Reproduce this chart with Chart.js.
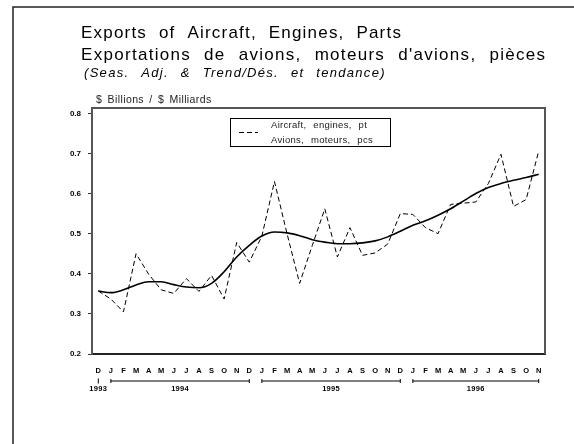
<!DOCTYPE html>
<html>
<head>
<meta charset="utf-8">
<script src="https://cdn.jsdelivr.net/npm/chart.js@4"></script>
<style>
  html, body { margin: 0; padding: 0; background: #fff; }
</style>
</head>
<body>
<canvas id="exportsChart" width="574" height="444"></canvas>
<script>
// Months from Dec 1993 to Nov 1996
const months = ['D',
  'J','F','M','A','M','J','J','A','S','O','N','D',
  'J','F','M','A','M','J','J','A','S','O','N','D',
  'J','F','M','A','M','J','J','A','S','O','N'];
const firstYear = 1993;
const yTicks = [0.2, 0.3, 0.4, 0.5, 0.6, 0.7, 0.8];

// Seasonally adjusted series (dashed) and trend (solid), $ billions
const seasAdj = [0.357,
  0.337, 0.305, 0.450, 0.399, 0.360, 0.351, 0.388, 0.356, 0.396, 0.337, 0.478, 0.429,
  0.494, 0.630, 0.500, 0.376, 0.470, 0.562, 0.442, 0.515, 0.446, 0.452, 0.474, 0.550,
  0.548, 0.515, 0.500, 0.573, 0.576, 0.579, 0.625, 0.698, 0.568, 0.585, 0.706];
const trend = [0.357,
  0.353, 0.360, 0.372, 0.380, 0.380, 0.373, 0.367, 0.365, 0.376, 0.405, 0.442, 0.471,
  0.494, 0.504, 0.502, 0.495, 0.485, 0.479, 0.475, 0.475, 0.477, 0.482, 0.492, 0.506,
  0.521, 0.532, 0.546, 0.562, 0.581, 0.600, 0.615, 0.625, 0.633, 0.640, 0.648];

const titleLines = ['Exports of Aircraft, Engines, Parts',
                    "Exportations de avions, moteurs d'avions, pièces"];
const subTitle = '(Seas. Adj. & Trend/Dés. et tendance)';
const unitLabel = '$ Billions / $ Milliards';
const legendLines = ['Aircraft, engines, pt', 'Avions, moteurs, pcs'];

const FONT = '"Liberation Sans", Arial, Helvetica, sans-serif';

// group month indexes into years (a new year starts at each 'J')
function yearSpans() {
  const spans = [];
  let year = firstYear;
  let start = 0;
  for (let i = 1; i <= months.length; i++) {
    if (i === months.length || months[i] === 'J' && months[i - 1] === 'D') {
      spans.push({ year: String(year), from: start, to: i - 1 });
      year++;
      start = i;
    }
  }
  return spans;
}

function spaced(ctx, font, letter, word) {
  ctx.font = font;
  ctx.letterSpacing = letter + 'px';
  ctx.wordSpacing = word + 'px';
}

const decorPlugin = {
  id: 'decor',
  afterDraw(chart) {
    const ctx = chart.ctx;
    const area = chart.chartArea;
    const x = chart.scales.x;
    ctx.save();

    // outer frame (top and left)
    ctx.strokeStyle = '#222';
    ctx.lineWidth = 1.5;
    ctx.beginPath();
    ctx.moveTo(13, 444);
    ctx.lineTo(13, 7);
    ctx.lineTo(574, 7);
    ctx.stroke();

    // titles
    ctx.fillStyle = '#000';
    ctx.textAlign = 'left';
    ctx.textBaseline = 'alphabetic';
    spaced(ctx, '17px ' + FONT, 1.2, 6);
    ctx.fillText(titleLines[0], 81, 38);
    spaced(ctx, '17px ' + FONT, 1.3, 7);
    ctx.fillText(titleLines[1], 81, 60);
    spaced(ctx, 'italic 13px ' + FONT, 1.3, 7);
    ctx.fillText(subTitle, 84, 77);
    spaced(ctx, '10.5px ' + FONT, 0.4, 2);
    ctx.fillStyle = '#222';
    ctx.fillText(unitLabel, 96, 103);

    // top and right of the plot frame
    ctx.strokeStyle = '#555';
    ctx.lineWidth = 2;
    ctx.beginPath();
    ctx.moveTo(area.left, area.top);
    ctx.lineTo(area.right, area.top);
    ctx.lineTo(area.right, area.bottom);
    ctx.stroke();

    // legend
    ctx.strokeStyle = '#000';
    ctx.lineWidth = 1;
    ctx.strokeRect(230.5, 118.5, 160, 28);
    ctx.setLineDash([5, 3]);
    ctx.beginPath();
    ctx.moveTo(239, 132.5);
    ctx.lineTo(258, 132.5);
    ctx.stroke();
    ctx.setLineDash([]);
    spaced(ctx, '9.5px ' + FONT, 0.3, 4);
    ctx.fillStyle = '#222';
    ctx.fillText(legendLines[0], 271, 128);
    ctx.fillText(legendLines[1], 271, 142.5);

    // year row
    ctx.strokeStyle = '#000';
    ctx.fillStyle = '#000';
    ctx.lineWidth = 1;
    spaced(ctx, 'bold 7.5px ' + FONT, 0.3, 0);
    ctx.textAlign = 'center';
    ctx.textBaseline = 'middle';
    const barY = 381;
    yearSpans().forEach(s => {
      const x0 = x.getPixelForValue(s.from);
      const x1 = x.getPixelForValue(s.to);
      ctx.beginPath();
      if (s.from === s.to) {
        ctx.moveTo(x0, barY - 2.5);
        ctx.lineTo(x0, barY + 2.5);
      } else {
        ctx.moveTo(x0, barY);
        ctx.lineTo(x1, barY);
        ctx.moveTo(x0, barY - 2);
        ctx.lineTo(x0, barY + 2);
        ctx.moveTo(x1, barY - 2);
        ctx.lineTo(x1, barY + 2);
      }
      ctx.stroke();
      ctx.fillText(s.year, (x0 + x1) / 2, 388.5);
    });

    ctx.restore();
  }
};

const ctx = document.getElementById('exportsChart').getContext('2d');
new Chart(ctx, {
  type: 'line',
  data: {
    labels: months,
    datasets: [{
      label: legendLines.join(' / '),
      data: seasAdj,
      borderColor: '#000',
      borderWidth: 1,
      borderDash: [5, 3],
      tension: 0,
      pointRadius: 0,
      fill: false
    }, {
      label: 'Trend',
      data: trend,
      borderColor: '#000',
      borderWidth: 1.6,
      cubicInterpolationMode: 'monotone',
      pointRadius: 0,
      fill: false
    }]
  },
  options: {
    responsive: false,
    animation: false,
    layout: { padding: { top: 108, right: 29, left: 0, bottom: 0 } },
    plugins: {
      legend: { display: false },
      title: { display: false },
      tooltip: { enabled: false }
    },
    scales: {
      x: {
        offset: true,
        grid: { display: false, drawTicks: false },
        border: { color: '#222', width: 2 },
        ticks: {
          color: '#000',
          font: { family: FONT, size: 7.5, weight: 'bold' },
          padding: 12,
          maxRotation: 0,
          autoSkip: false
        },
        afterFit: s => { s.height = 90; }
      },
      y: {
        min: 0.2,
        max: 0.8133,
        grid: { drawOnChartArea: false, tickLength: 4, color: '#333' },
        border: { color: '#555', width: 2 },
        ticks: {
          color: '#000',
          font: { family: FONT, size: 8, weight: 'bold' },
          padding: 7,
          callback: v => Number(v).toFixed(1)
        },
        afterBuildTicks: s => { s.ticks = yTicks.map(v => ({ value: v })); },
        afterFit: s => { s.width = 92; }
      }
    }
  },
  plugins: [decorPlugin]
});
</script>
</body>
</html>
